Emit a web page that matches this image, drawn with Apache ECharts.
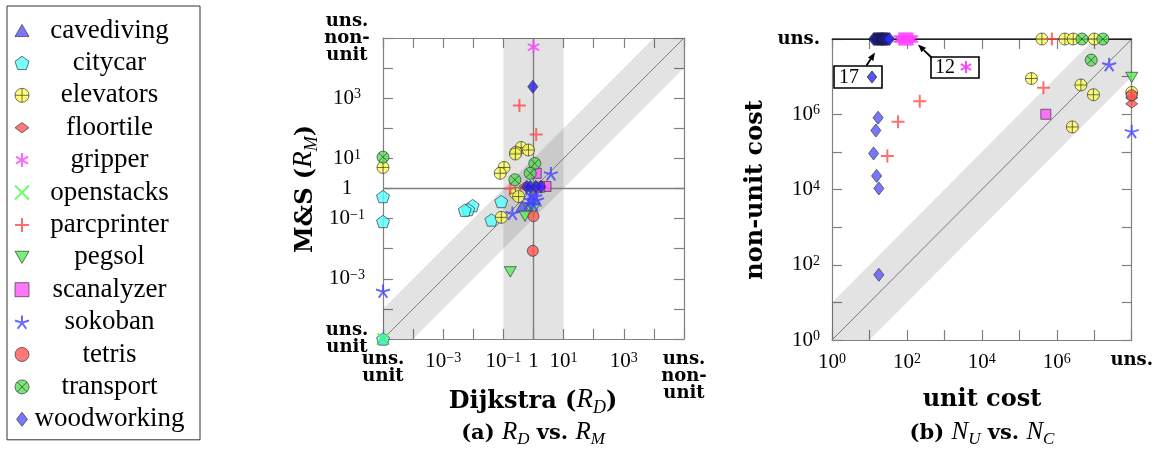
<!DOCTYPE html>
<html>
<head>
<meta charset="utf-8">
<script src="https://cdn.jsdelivr.net/npm/echarts@6/dist/echarts.min.js"></script>
<style>
  html, body { margin: 0; padding: 0; background: #fff; }
  #chart { width: 1156px; height: 449px; }
</style>
</head>
<body>
<div id="chart"></div>
<script>
// markers for unsolved instances, placed on the plot edges
const UU = 'uns-unit';
const UN = 'uns-nonunit';
const US = 'uns';

const domains = ['cavediving', 'citycar', 'elevators', 'floortile', 'gripper', 'openstacks',
  'parcprinter', 'pegsol', 'scanalyzer', 'sokoban', 'tetris', 'transport', 'woodworking'];

// (a) [R_D, R_M]
const cavedivingA = [[0.41, 0.25], [UU, UU]];
const citycarA = [[UU, 0.54], [UU, 0.08], [0.0095, 0.27], [0.0068, 0.2], [0.0052, 0.19], [0.04, 0.09], [0.085, 0.37], [UU, UU]];
const elevatorsA = [[UU, 5], [0.39, 23], [0.26, 16], [0.25, 14], [0.68, 19], [0.105, 5], [0.078, 3.2], [0.25, 0.7], [0.32, 0.54], [0.085, 0.11]];
const floortileA = [[0.52, 1.17]];
const gripperA = [[1.0, 5e4]];
const openstacksA = [[UU, UU]];
const parcprinterA = [[0.34, 575], [1.23, 62], [0.17, 1.0]];
const pegsolA = [[0.17, 0.0017], [0.78, 0.22], [1.0, 0.2], [0.52, 0.12]];
const scanalyzerA = [[1.23, 3.2], [2.6, 1.17], [1.6, 1.1]];
const sokobanA = [[3.8, 3.1], [0.2, 0.15], [UU, 3.9e-4], [0.89, 0.62], [1.15, 0.54], [0.78, 0.42], [1.3, 0.42], [0.68, 0.32], [1.0, 0.29]];
const tetrisA = [[0.95, 0.0085], [1.0, 0.12]];
const transportA = [[UU, 11], [1.1, 6.8], [0.78, 3.2], [0.24, 1.95]];
const woodworkingA = [[0.95, 2400], [0.6, 1.15], [0.78, 1.15], [1.2, 1.15], [1.75, 1.15]];

// (b) [unit cost, non-unit cost]
const cavedivingB = [];
const citycarB = [];
const elevatorsB = [[2.1e5, 8.9e6], [4.4e6, 6.0e6], [9.5e6, 3.3e6], [2.6e6, 4.6e5], [4e5, US], [1.65e6, US], [2.75e6, US], [1e7, US], [US, 3.8e6]];
const floortileB = [[US, 2.75e6], [US, 1.9e6]];
const gripperB = [[62, US], [67, US], [72, US], [78, US], [84, US], [90, US], [97, US], [104, US], [112, US], [121, US], [131, US], [142, US]];
const openstacksB = [];
const parcprinterB = [[220, 2.2e6], [58, 6.3e5], [30, 7.8e4], [4.4e5, 5.1e6], [7.4e5, US]];
const pegsolB = [[US, 9.5e6]];
const scanalyzerB = [[5.1e5, 1e6]];
const sokobanB = [[2.5e7, 2.1e7], [US, 3.5e5]];
const tetrisB = [[US, 3.2e6]];
const transportB = [[8.3e6, 2.75e7], [4.7e6, US], [1.7e7, US]];
const woodworkingB = [[17, 8.1e5], [14.8, 3.7e5], [12.9, 9.1e4], [15.5, 2.3e4], [17.8, 1.07e4], [17.8, 54],
  [13, US], [14, US], [15, US], [16, US], [17, US], [18, US], [19, US], [20, US], [21, US],
  [22, US], [23, US], [24, US], [25.5, US], [27, US], [29, US], [31, US], [34, US]];

// labelled decades
const tickExpA = [-3, -1, 0, 1, 3];
const tickExpB = [0, 2, 4, 6];

const dataA = [cavedivingA, citycarA, elevatorsA, floortileA, gripperA, openstacksA, parcprinterA,
  pegsolA, scanalyzerA, sokobanA, tetrisA, transportA, woodworkingA];
const dataB = [cavedivingB, citycarB, elevatorsB, floortileB, gripperB, openstacksB, parcprinterB,
  pegsolB, scanalyzerB, sokobanB, tetrisB, transportB, woodworkingB];

const colors = ['#5555ff', '#55ffff', '#ffff55', '#ff5555', '#ff44ff', '#44ff44', '#ff4a4a',
  '#55ee55', '#ff55ff', '#4444ff', '#ff5555', '#55dd55', '#5555ff'];

const CIRC = 'M-1,0A1 1 0 1 1 1,0A1 1 0 1 1 -1,0Z';
const P = {
  triUp: 'path://M0,-1L0.866,0.5L-0.866,0.5Z',
  triDown: 'path://M0,1L0.866,-0.5L-0.866,-0.5Z',
  penta: 'path://M0,-1L0.951,-0.309L0.588,0.809L-0.588,0.809L-0.951,-0.309Z',
  circle: 'path://' + CIRC,
  oplus: 'path://' + CIRC + 'M-1,0L1,0M0,-1L0,1',
  otimes: 'path://' + CIRC + 'M-0.707,-0.707L0.707,0.707M0.707,-0.707L-0.707,0.707',
  diamondW: 'path://M-1,0L0,-0.73L1,0L0,0.73Z',
  diamondT: 'path://M0,-1L0.78,0L0,1L-0.78,0Z',
  square: 'path://M-1,-1L1,-1L1,1L-1,1Z',
  aster: 'path://M0,-1L0,1M-0.866,-0.5L0.866,0.5M-0.866,0.5L0.866,-0.5',
  cross: 'path://M-1,-1L1,1M1,-1L-1,1',
  plus: 'path://M-1,0L1,0M0,-1L0,1',
  star: 'path://M0,0L0,-1M0,0L0.951,-0.309M0,0L0.588,0.809M0,0L-0.588,0.809M0,0L-0.951,-0.309'
};

// [symbol, size, filled]
const marks = [
  [P.triUp, 12, true], [P.penta, 13, true], [P.oplus, 12, true], [P.diamondW, 12, true],
  [P.aster, 13, false], [P.cross, 11, false], [P.plus, 13, false], [P.triDown, 12, true],
  [P.square, 10, true], [P.star, 14, false], [P.circle, 11, true], [P.otimes, 12, true],
  [P.diamondT, 13, true]
];

function expA(v) { return v === UU ? -5 : v === UN ? 5 : Math.log10(v); }
function expB(v) { return v === US ? 8 : Math.log10(v); }

function markStyle(i, color) {
  const c = color || colors[i];
  return marks[i][2]
    ? { color: c, borderColor: '#3a3a3a', borderWidth: 0.9 }
    : { color: c, borderColor: c, borderWidth: 2 };
}

function pow10(v, oneAsOne) {
  if (v === 0 && oneAsOne) return '1';
  return '10{s|' + (v < 0 ? '\u2212' + (-v) : v) + '}';
}

const tickRich = {
  s: { fontFamily: 'Liberation Serif', fontSize: 14, verticalAlign: 'top' },
  b: { fontFamily: 'DejaVu Serif', fontWeight: 'bold', fontSize: 18, lineHeight: 17 }
};

const lineCol = { color: '#808080', width: 1.2 };

function axis(gridIndex, position, min, max, label) {
  return {
    type: 'value', gridIndex, position, min, max, interval: 1,
    axisLine: { show: true, onZero: false, lineStyle: lineCol },
    axisTick: { inside: true, length: 10, lineStyle: lineCol },
    splitLine: { show: false },
    axisLabel: label || { show: false }
  };
}

const labelBase = { color: '#000', fontFamily: 'Liberation Serif', fontSize: 21, rich: tickRich, showMinLabel: true, showMaxLabel: true };

// axis index 0/1 -> panel (a), 2/3 -> panel (b)
const xAxes = [
  axis(0, 'bottom', -5, 5, Object.assign({}, labelBase, {
    margin: 12,
    formatter: v => v === -5 ? '{b|uns.}\n{b|unit}' : v === 5 ? '{b|uns.}\n{b|non-}\n{b|unit}' : tickExpA.includes(v) ? pow10(v, true) : ''
  })),
  axis(0, 'top', -5, 5),
  axis(1, 'bottom', 0, 8, Object.assign({}, labelBase, {
    margin: 12,
    formatter: v => v === 8 ? '{b|uns.}' : tickExpB.includes(v) ? pow10(v) : ''
  })),
  axis(1, 'top', 0, 8)
];
const yAxes = [
  axis(0, 'left', -5, 5, Object.assign({}, labelBase, {
    margin: 36, align: 'center',
    formatter: v => v === -5 ? '{b|uns.}\n{b|unit}' : v === 5 ? '{b|uns.}\n{b|non-}\n{b|unit}' : tickExpA.includes(v) ? pow10(v, true) : ''
  })),
  axis(0, 'right', -5, 5),
  axis(1, 'left', 0, 8, Object.assign({}, labelBase, {
    margin: 12,
    formatter: v => v === 8 ? '{b|uns.}' : tickExpB.includes(v) ? pow10(v) : ''
  })),
  axis(1, 'right', 0, 8)
];

// band shapes in decade units
const diagBandA = [[-5, -5], [-5, -4], [4, 5], [5, 5], [5, 4], [-4, -5]];
const vertBandA = [[-1, -5], [-1, 5], [1, 5], [1, -5]];
const diagBandB = [[0, 0], [0, 1], [7, 8], [8, 8], [8, 7], [1, 0]];

function band(ai, poly) {
  return {
    type: 'custom', xAxisIndex: ai, yAxisIndex: ai, silent: true, z: 1,
    data: [[poly[0][0], poly[0][1]]],
    renderItem: (params, api) => ({
      type: 'polygon',
      shape: { points: poly.map(p => api.coord(p)) },
      style: { fill: 'rgba(0,0,0,0.11)' }
    })
  };
}

function guide(ai, pts, color, width) {
  return {
    type: 'line', xAxisIndex: ai, yAxisIndex: ai, data: pts, symbol: 'none', silent: true, z: 2,
    lineStyle: { color, width }
  };
}

const series = [
  band(0, vertBandA), band(0, diagBandA), band(2, diagBandB),
  guide(0, [[-5, -5], [5, 5]], '#7a7a7a', 1),
  guide(0, [[0, -5], [0, 5]], '#808080', 1.4),
  guide(0, [[-5, 0], [5, 0]], '#808080', 1.4),
  guide(2, [[0, 0], [8, 8]], '#7a7a7a', 1),
  guide(2, [[0, 8], [8, 8]], '#000', 1.4)
];

// instances stacked on the "uns." edge read darker in the reference
const stackedWood = { color: '#2a2af2', borderColor: '#111', borderWidth: 0.8 };

domains.forEach((name, i) => {
  const common = {
    name, type: 'scatter', symbol: marks[i][0], symbolSize: marks[i][1], symbolKeepAspect: true,
    clip: false, z: 5
  };
  series.push(Object.assign({}, common, {
    xAxisIndex: 0, yAxisIndex: 0,
    itemStyle: markStyle(i, name === 'woodworking' ? '#2222f0' : null),
    data: dataA[i].map(p => [expA(p[0]), expA(p[1])])
  }));
  series.push(Object.assign({}, common, {
    xAxisIndex: 2, yAxisIndex: 2,
    itemStyle: markStyle(i),
    data: dataB[i].map(p => name === 'woodworking' && p[1] === US
      ? { value: [expB(p[0]), expB(p[1])], itemStyle: stackedWood }
      : [expB(p[0]), expB(p[1])])
  }));
});

const titleRich = {
  b: { fontFamily: 'DejaVu Serif', fontWeight: 'bold', fontSize: 24, verticalAlign: 'bottom', padding: [0, 0, 4, 0] },
  i: { fontFamily: 'Liberation Serif', fontStyle: 'italic', fontSize: 27, verticalAlign: 'bottom', padding: [0, 0, 4, 0] },
  s: { fontFamily: 'Liberation Serif', fontStyle: 'italic', fontSize: 18, verticalAlign: 'bottom' }
};
const capRich = {
  b: { fontFamily: 'DejaVu Serif', fontWeight: 'bold', fontSize: 21, verticalAlign: 'bottom', padding: [0, 0, 4, 0] },
  i: { fontFamily: 'Liberation Serif', fontStyle: 'italic', fontSize: 25, verticalAlign: 'bottom', padding: [0, 0, 4, 0] },
  s: { fontFamily: 'Liberation Serif', fontStyle: 'italic', fontSize: 17, verticalAlign: 'bottom' }
};

function label(x, y, text, rich, rotation) {
  return { type: 'text', x, y, rotation: rotation || 0, style: { text, rich, align: 'center', verticalAlign: 'middle', fill: '#000' } };
}

function arrow(x1, y1, x2, y2) {
  const a = Math.atan2(y2 - y1, x2 - x1), L = 8, W = 3.2;
  const bx = x2 - L * Math.cos(a), by = y2 - L * Math.sin(a);
  return [
    { type: 'line', z: 11, shape: { x1, y1, x2: bx, y2: by }, style: { stroke: '#000', lineWidth: 1.8 } },
    { type: 'polygon', z: 11, shape: { points: [[x2, y2], [bx + W * Math.sin(a), by - W * Math.cos(a)], [bx - W * Math.sin(a), by + W * Math.cos(a)]] }, style: { fill: '#000' } }
  ];
}

const graphics = [
  label(533, 402, '{b|Dijkstra (}{i|R}{s|D}{b|)}', titleRich),
  label(306, 189, '{b|M&S (}{i|R}{s|M}{b|)}', titleRich, Math.PI / 2),
  label(533, 434, '{b|(a) }{i|R}{s|D}{b| vs. }{i|R}{s|M}', capRich),
  label(982, 402, '{b|unit cost}', titleRich),
  label(758, 190, '{b|non-unit cost}', titleRich, Math.PI / 2),
  label(982, 434, '{b|(b) }{i|N}{s|U}{b| vs. }{i|N}{s|C}', capRich),
  { type: 'rect', shape: { x: 834, y: 66, width: 48, height: 22 }, style: { fill: '#fff', stroke: '#000', lineWidth: 1.6 }, z: 10 },
  { type: 'text', x: 839, y: 77.5, z: 11, style: { text: '17', fontFamily: 'Liberation Serif', fontSize: 20, verticalAlign: 'middle', fill: '#000' } },
  { type: 'polygon', z: 11, shape: { points: [[872, 71], [876.7, 77], [872, 83], [867.3, 77]] }, style: { fill: '#5555ff', stroke: '#3a3a3a', lineWidth: 0.9 } },
  { type: 'rect', shape: { x: 931, y: 57, width: 48, height: 21 }, style: { fill: '#fff', stroke: '#000', lineWidth: 1.6 }, z: 10 },
  { type: 'text', x: 935, y: 68, z: 11, style: { text: '12', fontFamily: 'Liberation Serif', fontSize: 20, verticalAlign: 'middle', fill: '#000' } },
  { type: 'line', z: 11, shape: { x1: 966, y1: 61, x2: 966, y2: 73 }, style: { stroke: '#ff44ff', lineWidth: 2 } },
  { type: 'line', z: 11, shape: { x1: 960.8, y1: 64, x2: 971.2, y2: 70 }, style: { stroke: '#ff44ff', lineWidth: 2 } },
  { type: 'line', z: 11, shape: { x1: 960.8, y1: 70, x2: 971.2, y2: 64 }, style: { stroke: '#ff44ff', lineWidth: 2 } }
].concat(arrow(866.5, 65.5, 875, 52.5), arrow(932, 58, 918, 44.5));

const chart = echarts.init(document.getElementById('chart'));
chart.setOption({
  animation: false,
  backgroundColor: '#fff',
  grid: [
    { left: 383, top: 38, width: 301, height: 301 },
    { left: 832, top: 39, width: 301, height: 301 }
  ],
  legend: {
    orient: 'vertical', left: 7, top: 6,
    padding: [11, 15, 7, 7], itemGap: 5.4, itemWidth: 14, itemHeight: 14,
    borderColor: '#333', borderWidth: 1,
    data: domains.map((name, i) => ({ name, icon: marks[i][0], itemStyle: markStyle(i) })),
    formatter: name => '{a|' + name + '}',
    textStyle: {
      rich: { a: { fontFamily: 'Liberation Serif', fontSize: 27, width: 151, align: 'center', lineHeight: 30, color: '#000' } }
    }
  },
  xAxis: xAxes,
  yAxis: yAxes,
  series,
  graphic: { elements: graphics }
});
</script>
</body>
</html>
